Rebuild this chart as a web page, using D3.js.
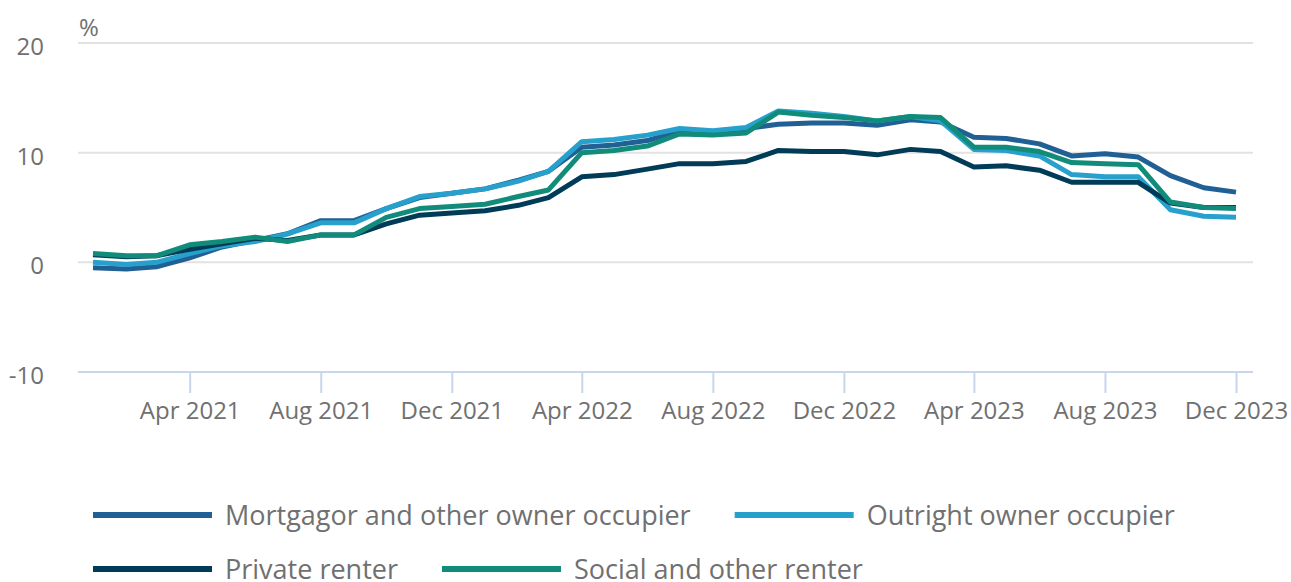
<!DOCTYPE html>
<html>
<head>
<meta charset="utf-8">
<script src="https://cdn.jsdelivr.net/npm/d3@7"></script>
<style>
  html, body { margin: 0; padding: 0; background: #fff; }
  svg { display: block; font-family: "Open Sans", sans-serif; }
  .tick-label { fill: #707071; font-size: 24px; font-family: "Open Sans", sans-serif; }
  .legend-label { fill: #707071; font-size: 27px; font-family: "Open Sans", sans-serif; }
</style>
</head>
<body>
<svg id="chart"></svg>
<script>
const width = 1291;
const height = 582;

// monthly, Jan 2021 .. Dec 2023
const months = d3.range(36).map(i => new Date(2021, i, 1));

const mortgagor = [
  -0.5, -0.6, -0.4, 0.4, 1.4, 2.0, 2.6, 3.8, 3.8, 4.9, 5.9, 6.3,
  6.7, 7.5, 8.3, 10.5, 10.7, 11.1, 12.0, 11.9, 12.2, 12.6, 12.7, 12.7,
  12.5, 13.0, 12.8, 11.4, 11.3, 10.8, 9.7, 9.9, 9.6, 7.9, 6.8, 6.4
];
const outright = [
  0.0, -0.2, 0.0, 0.8, 1.5, 1.9, 2.6, 3.6, 3.6, 4.9, 6.0, 6.3,
  6.7, 7.4, 8.3, 11.0, 11.2, 11.6, 12.2, 12.0, 12.3, 13.8, 13.6, 13.3,
  12.9, 13.3, 12.9, 10.3, 10.2, 9.7, 8.0, 7.8, 7.8, 4.8, 4.2, 4.1
];
const privateRenter = [
  0.7, 0.5, 0.6, 1.2, 1.7, 2.2, 2.0, 2.5, 2.5, 3.5, 4.3, 4.5,
  4.7, 5.2, 5.9, 7.8, 8.0, 8.5, 9.0, 9.0, 9.2, 10.2, 10.1, 10.1,
  9.8, 10.3, 10.1, 8.7, 8.8, 8.4, 7.3, 7.3, 7.3, 5.4, 5.0, 5.0
];
const socialRenter = [
  0.8, 0.6, 0.6, 1.6, 1.9, 2.3, 1.9, 2.5, 2.5, 4.1, 4.9, 5.1,
  5.3, 6.0, 6.6, 10.0, 10.2, 10.6, 11.7, 11.6, 11.8, 13.7, 13.4, 13.2,
  12.9, 13.3, 13.2, 10.5, 10.5, 10.1, 9.1, 9.0, 8.9, 5.5, 5.0, 4.9
];

const seriesNames = [
  "Mortgagor and other owner occupier",
  "Outright owner occupier",
  "Private renter",
  "Social and other renter"
];
const seriesValues = [mortgagor, outright, privateRenter, socialRenter];
const colors = ["#206095", "#27a0cc", "#003c57", "#118c7b"];

const yTicks = [-10, 0, 10, 20];
const xTicks = months.filter((d, i) => i % 4 === 3); // Apr, Aug, Dec
const fmt = d3.timeFormat("%b %Y");

const svg = d3.select('#chart')
  .attr('width', width)
  .attr('height', height);

const x = d3.scaleTime()
  .domain([months[0], months[months.length - 1]])
  .range([93, 1236]);

const y = d3.scaleLinear()
  .domain([-10, 20])
  .range([372, 43]);

const gridLeft = 78, gridRight = 1253;

// gridlines
svg.append('g')
  .selectAll('line')
  .data(yTicks.filter(d => d !== -10))
  .enter().append('line')
  .attr('x1', gridLeft)
  .attr('x2', gridRight)
  .attr('y1', d => y(d))
  .attr('y2', d => y(d))
  .attr('stroke', '#e2e2e3')
  .attr('stroke-width', 2);

// y labels
svg.append('g')
  .selectAll('text')
  .data(yTicks)
  .enter().append('text')
  .attr('class', 'tick-label')
  .attr('x', 44)
  .attr('y', d => y(d) + 12)
  .attr('text-anchor', 'end')
  .text(d => d);

svg.append('text')
  .attr('class', 'tick-label')
  .attr('x', 79)
  .attr('y', 36)
  .text('%');

// x axis
const xAxis = svg.append('g')
  .attr('transform', `translate(0, ${y(-10)})`)
  .call(d3.axisBottom(x)
    .tickValues(xTicks)
    .tickSize(21)
    .tickPadding(4)
    .tickFormat(fmt))
  .attr('font-family', null)
  .attr('font-size', null);

xAxis.select('.domain').remove();
xAxis.insert('line', ':first-child')
  .attr('x1', gridLeft)
  .attr('x2', gridRight)
  .attr('stroke', '#c9d6ea')
  .attr('stroke-width', 2);
xAxis.selectAll('.tick line')
  .attr('stroke', '#c9d6ea')
  .attr('stroke-width', 2);
xAxis.selectAll('.tick text')
  .attr('class', 'tick-label')
  .attr('fill', null)
  .attr('dy', '0.9em');

// lines
const line = d3.line()
  .x((d, i) => x(months[i]))
  .y(d => y(d));

svg.append('g')
  .selectAll('path')
  .data(seriesValues)
  .enter().append('path')
  .attr('d', line)
  .attr('fill', 'none')
  .attr('stroke', (d, i) => colors[i])
  .attr('stroke-width', 5)
  .attr('stroke-linejoin', 'round');

// legend, flowing left to right and wrapping
const legend = svg.append('g').attr('id', 'legend');
const SWATCH = 119, SWATCH_GAP = 13, ITEM_GAP = 44, ROW_H = 54;
const legendLeft = 93, legendRight = 1240;
let cx = legendLeft, row = 0;

seriesNames.forEach((name, i) => {
  const item = legend.append('g');
  item.append('line')
    .attr('x1', 0).attr('x2', SWATCH)
    .attr('y1', 0).attr('y2', 0)
    .attr('stroke', colors[i])
    .attr('stroke-width', 6);
  const t = item.append('text')
    .attr('class', 'legend-label')
    .attr('x', SWATCH + SWATCH_GAP)
    .attr('y', 10)
    .text(name);
  const w = SWATCH + SWATCH_GAP + t.node().getComputedTextLength();
  if (cx > legendLeft && cx + w > legendRight) {
    cx = legendLeft;
    row++;
  }
  item.attr('transform', `translate(${cx}, ${515 + row * ROW_H})`);
  cx += w + ITEM_GAP;
});
</script>
</body>
</html>
